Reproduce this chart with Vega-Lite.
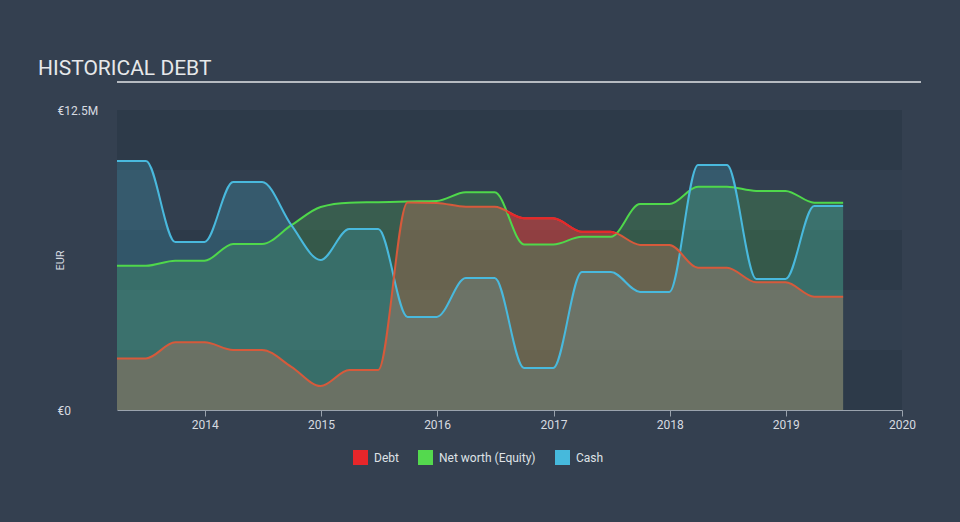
{
  "$schema": "https://vega.github.io/schema/vega-lite/v6.json",
  "background": "#344050",
  "padding": {"left": 38, "top": 58, "right": 40, "bottom": 57},
  "autosize": {"type": "pad"},
  "config": {"view": {"stroke": null}, "font": "Roboto", "axis": {"grid": false}, "legend": {"symbolOpacity": 1}},
  "align": "none",
  "bounds": "full",
  "spacing": 21,
  "datasets": {
    "series": [
      {"date": "2013-03-31", "debt": 2.15, "equity": 6.01, "cash": 10.38},
      {"date": "2013-06-30", "debt": 2.15, "equity": 6.01, "cash": 10.38},
      {"date": "2013-09-30", "debt": 2.82, "equity": 6.22, "cash": 7.0},
      {"date": "2013-12-31", "debt": 2.82, "equity": 6.22, "cash": 7.0},
      {"date": "2014-03-31", "debt": 2.5, "equity": 6.92, "cash": 9.5},
      {"date": "2014-06-30", "debt": 2.5, "equity": 6.92, "cash": 9.5},
      {"date": "2014-09-30", "debt": 1.8, "equity": 7.7, "cash": 7.7},
      {"date": "2014-12-31", "debt": 1.0, "equity": 8.46, "cash": 6.25},
      {"date": "2015-03-31", "debt": 1.67, "equity": 8.64, "cash": 7.54},
      {"date": "2015-06-30", "debt": 1.67, "equity": 8.66, "cash": 7.54},
      {"date": "2015-09-30", "debt": 8.65, "equity": 8.69, "cash": 3.88},
      {"date": "2015-12-31", "debt": 8.63, "equity": 8.71, "cash": 3.88},
      {"date": "2016-03-31", "debt": 8.47, "equity": 9.07, "cash": 5.5},
      {"date": "2016-06-30", "debt": 8.47, "equity": 9.07, "cash": 5.5},
      {"date": "2016-09-30", "debt": 7.99, "equity": 6.9, "cash": 1.75},
      {"date": "2016-12-31", "debt": 7.99, "equity": 6.9, "cash": 1.75},
      {"date": "2017-03-31", "debt": 7.43, "equity": 7.22, "cash": 5.75},
      {"date": "2017-06-30", "debt": 7.43, "equity": 7.22, "cash": 5.75},
      {"date": "2017-09-30", "debt": 6.88, "equity": 8.58, "cash": 4.92},
      {"date": "2017-12-31", "debt": 6.88, "equity": 8.58, "cash": 4.92},
      {"date": "2018-03-31", "debt": 5.93, "equity": 9.3, "cash": 10.21},
      {"date": "2018-06-30", "debt": 5.93, "equity": 9.3, "cash": 10.21},
      {"date": "2018-09-30", "debt": 5.32, "equity": 9.13, "cash": 5.46},
      {"date": "2018-12-31", "debt": 5.32, "equity": 9.13, "cash": 5.46},
      {"date": "2019-03-31", "debt": 4.72, "equity": 8.64, "cash": 8.5},
      {"date": "2019-06-30", "debt": 4.72, "equity": 8.64, "cash": 8.5}
    ],
    "over": [
      {"date": "2016-08-08", "debt": 8.26, "equity": 8.26},
      {"date": "2016-09-30", "debt": 7.99, "equity": 6.9},
      {"date": "2016-12-31", "debt": 7.99, "equity": 6.9},
      {"date": "2017-03-31", "debt": 7.43, "equity": 7.22},
      {"date": "2017-06-30", "debt": 7.43, "equity": 7.22},
      {"date": "2017-07-13", "debt": 7.35, "equity": 7.35}
    ],
    "bands": [
      {"lo": 2.5, "hi": 5},
      {"lo": 7.5, "hi": 10}
    ]
  },
  "vconcat": [
    {
      "width": 804,
      "height": 2,
      "title": {"text": "HISTORICAL DEBT", "anchor": "start", "fontSize": 21, "fontWeight": "normal", "color": "#e6e8ea", "baseline": "alphabetic", "offset": -16, "dx": -78, "font": "Roboto"},
      "data": {"values": [{}]},
      "mark": {"type": "rule", "color": "#b6bbc1", "strokeWidth": 2, "x2Offset": -78},
      "encoding": {"y": {"datum": 0, "type": "quantitative", "scale": {"domain": [0, 1]}, "axis": null}}
    },
    {
      "width": 785,
      "height": 300,
      "view": {"fill": "#2d3a49", "stroke": null},
      "layer": [
        {
          "data": {"name": "bands"},
          "mark": {"type": "rect", "color": "#323f4f"},
          "encoding": {
            "y": {"field": "lo", "type": "quantitative", "scale": {"domain": [0, 12.5], "nice": false, "zero": true},
              "axis": {"values": [0, 12.5], "labelExpr": "datum.value == 0 ? '€0' : '€' + datum.value + 'M'", "title": "EUR", "domain": false, "ticks": false, "labelFlush": false, "labelBaseline": "middle", "labelAlign": "left", "labelPadding": 60, "labelFontSize": 12, "labelColor": "#d7dbe0", "labelFont": "Roboto", "titleColor": "#d7dbe0", "titleFontSize": 11, "titleFontWeight": "normal", "titleFont": "Roboto", "titleX": -57, "titleY": 150, "titleAlign": "center", "titleBaseline": "middle", "titleAngle": -90}},
            "y2": {"field": "hi"}
          }
        },
        {
          "data": {"name": "series"},
          "mark": {"type": "area", "interpolate": "monotone", "fillOpacity": 0.2},
          "encoding": {
            "x": {"field": "date", "type": "temporal", "scale": {"domain": [{"year": 2013, "month": 3, "date": 31}, {"year": 2020, "month": 1, "date": 1}]},
              "axis": {"values": [{"year": 2014}, {"year": 2015}, {"year": 2016}, {"year": 2017}, {"year": 2018}, {"year": 2019}, {"year": 2020}], "format": "%Y", "title": null, "domainColor": "#9aa3ad", "tickColor": "#9aa3ad", "tickSize": 6, "labelColor": "#d7dbe0", "labelFontSize": 12, "labelFont": "Roboto", "labelPadding": 3, "labelFlush": false}},
            "y": {"field": "equity", "type": "quantitative", "scale": {"domain": [0, 12.5], "nice": false}},
            "color": {"datum": "Net worth (Equity)", "type": "nominal",
              "scale": {"domain": ["Debt", "Net worth (Equity)", "Cash"], "range": ["#e8262a", "#54d94e", "#46b9dc"]},
              "legend": {"orient": "none", "legendX": 236, "legendY": 370, "direction": "horizontal", "title": null, "symbolType": "square", "symbolSize": 225, "symbolOpacity": 1, "symbolFillOpacity": 1, "symbolStrokeWidth": 0, "labelColor": "#dfe2e6", "labelFontSize": 12, "labelFont": "Roboto", "labelOffset": 6, "columnPadding": 19}}
          }
        },
        {
          "data": {"name": "series"},
          "mark": {"type": "area", "interpolate": "monotone", "fillOpacity": 0.22},
          "encoding": {
            "x": {"field": "date", "type": "temporal"},
            "y": {"field": "cash", "type": "quantitative"},
            "color": {"datum": "Cash", "type": "nominal"}
          }
        },
        {
          "data": {"name": "series"},
          "mark": {"type": "area", "interpolate": "monotone", "fillOpacity": 0.32, "color": "#d4785a"},
          "encoding": {
            "x": {"field": "date", "type": "temporal"},
            "y": {"field": "debt", "type": "quantitative"}
          }
        },
        {
          "data": {"name": "over"},
          "mark": {"type": "area", "interpolate": "monotone", "fillOpacity": 0.35},
          "encoding": {
            "x": {"field": "date", "type": "temporal"},
            "y": {"field": "debt", "type": "quantitative"},
            "y2": {"field": "equity"},
            "color": {"datum": "Debt", "type": "nominal"}
          }
        },
        {
          "data": {"name": "series"},
          "mark": {"type": "line", "interpolate": "monotone", "color": "#4fd84b", "strokeWidth": 2},
          "encoding": {
            "x": {"field": "date", "type": "temporal"},
            "y": {"field": "equity", "type": "quantitative"}
          }
        },
        {
          "data": {"name": "series"},
          "mark": {"type": "line", "interpolate": "monotone", "color": "#49b9dd", "strokeWidth": 2},
          "encoding": {
            "x": {"field": "date", "type": "temporal"},
            "y": {"field": "cash", "type": "quantitative"}
          }
        },
        {
          "data": {"name": "series"},
          "mark": {"type": "line", "interpolate": "monotone", "color": "#d65a3b", "strokeWidth": 2},
          "encoding": {
            "x": {"field": "date", "type": "temporal"},
            "y": {"field": "debt", "type": "quantitative"}
          }
        },
        {
          "data": {"name": "over"},
          "mark": {"type": "line", "interpolate": "monotone", "color": "#e8262a", "strokeWidth": 2},
          "encoding": {
            "x": {"field": "date", "type": "temporal"},
            "y": {"field": "debt", "type": "quantitative"}
          }
        }
      ]
    }
  ]
}
